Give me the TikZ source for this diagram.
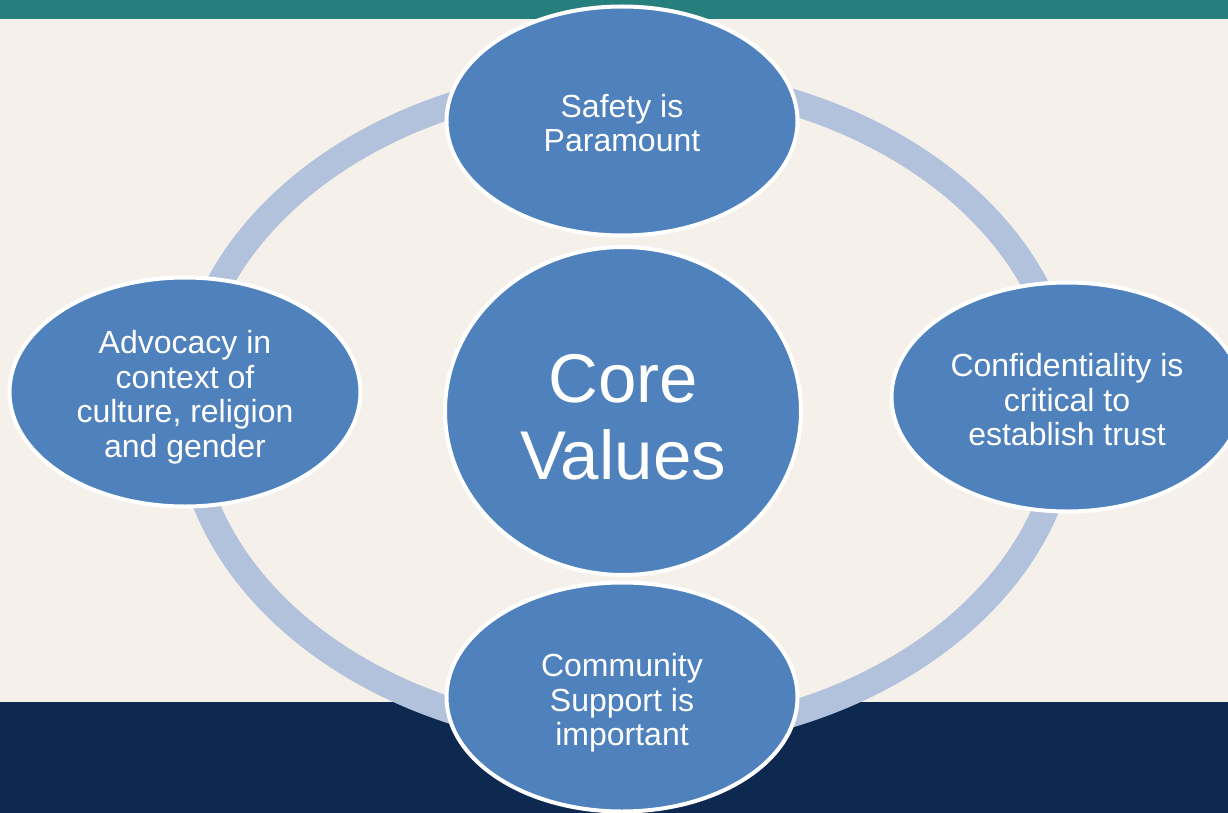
\documentclass[tikz,border=0pt]{standalone}
\usepackage{fontspec}
\setmainfont{Liberation Sans}
\usetikzlibrary{shapes.geometric}
\definecolor{teal}{HTML}{267F7C}
\definecolor{cream}{HTML}{F5F1EA}
\definecolor{navy}{HTML}{0D2950}
\definecolor{ringc}{HTML}{B3C2DC}
\definecolor{bubc}{HTML}{4F81BD}
\tikzset{
  bub/.style={ellipse, draw=white, line width=4pt, fill=bubc,
    inner sep=0pt, minimum width=351pt, minimum height=229pt},
  corebub/.style={bub, minimum width=356pt, minimum height=328pt},
  lbl/.style={text=white, align=center, inner sep=0pt,
    font=\fontsize{32}{34.5}\selectfont},
  corelbl/.style={lbl, font=\fontsize{69}{77}\selectfont},
  ringline/.style={draw=ringc, line width=26pt}
}
\begin{document}
\begin{tikzpicture}[x=1pt,y=-1pt]
\useasboundingbox (0,0) rectangle (1228,813);
\fill[cream] (0,0) rectangle (1228,813);
\fill[teal] (0,0) rectangle (1228,19);
\fill[navy] (0,702) rectangle (1228,813);
\draw[ringline] (627,408) ellipse [x radius=440, y radius=330];
\node[corebub] (core) at (623,411) {};
\node[corelbl] (coret) at ([yshift=-6]core.center) {Core\\Values};
\node[bub] (top) at (622,121) {};
\node[lbl] (topt) at ([yshift=-2]top.center) {Safety is\\Paramount};
\node[bub] (right) at (1067,397) {};
\node[lbl] (rightt) at ([yshift=-3]right.center) {Confidentiality is\\critical to\\establish trust};
\node[bub] (left) at (185,392) {};
\node[lbl] (leftt) at ([yshift=-5]left.center) {Advocacy in\\context of\\culture, religion\\and gender};
\node[bub] (bottom) at (622,697) {};
\node[lbl] (bottomt) at ([yshift=-6]bottom.center) {Community\\Support is\\important};
\end{tikzpicture}
\end{document}
